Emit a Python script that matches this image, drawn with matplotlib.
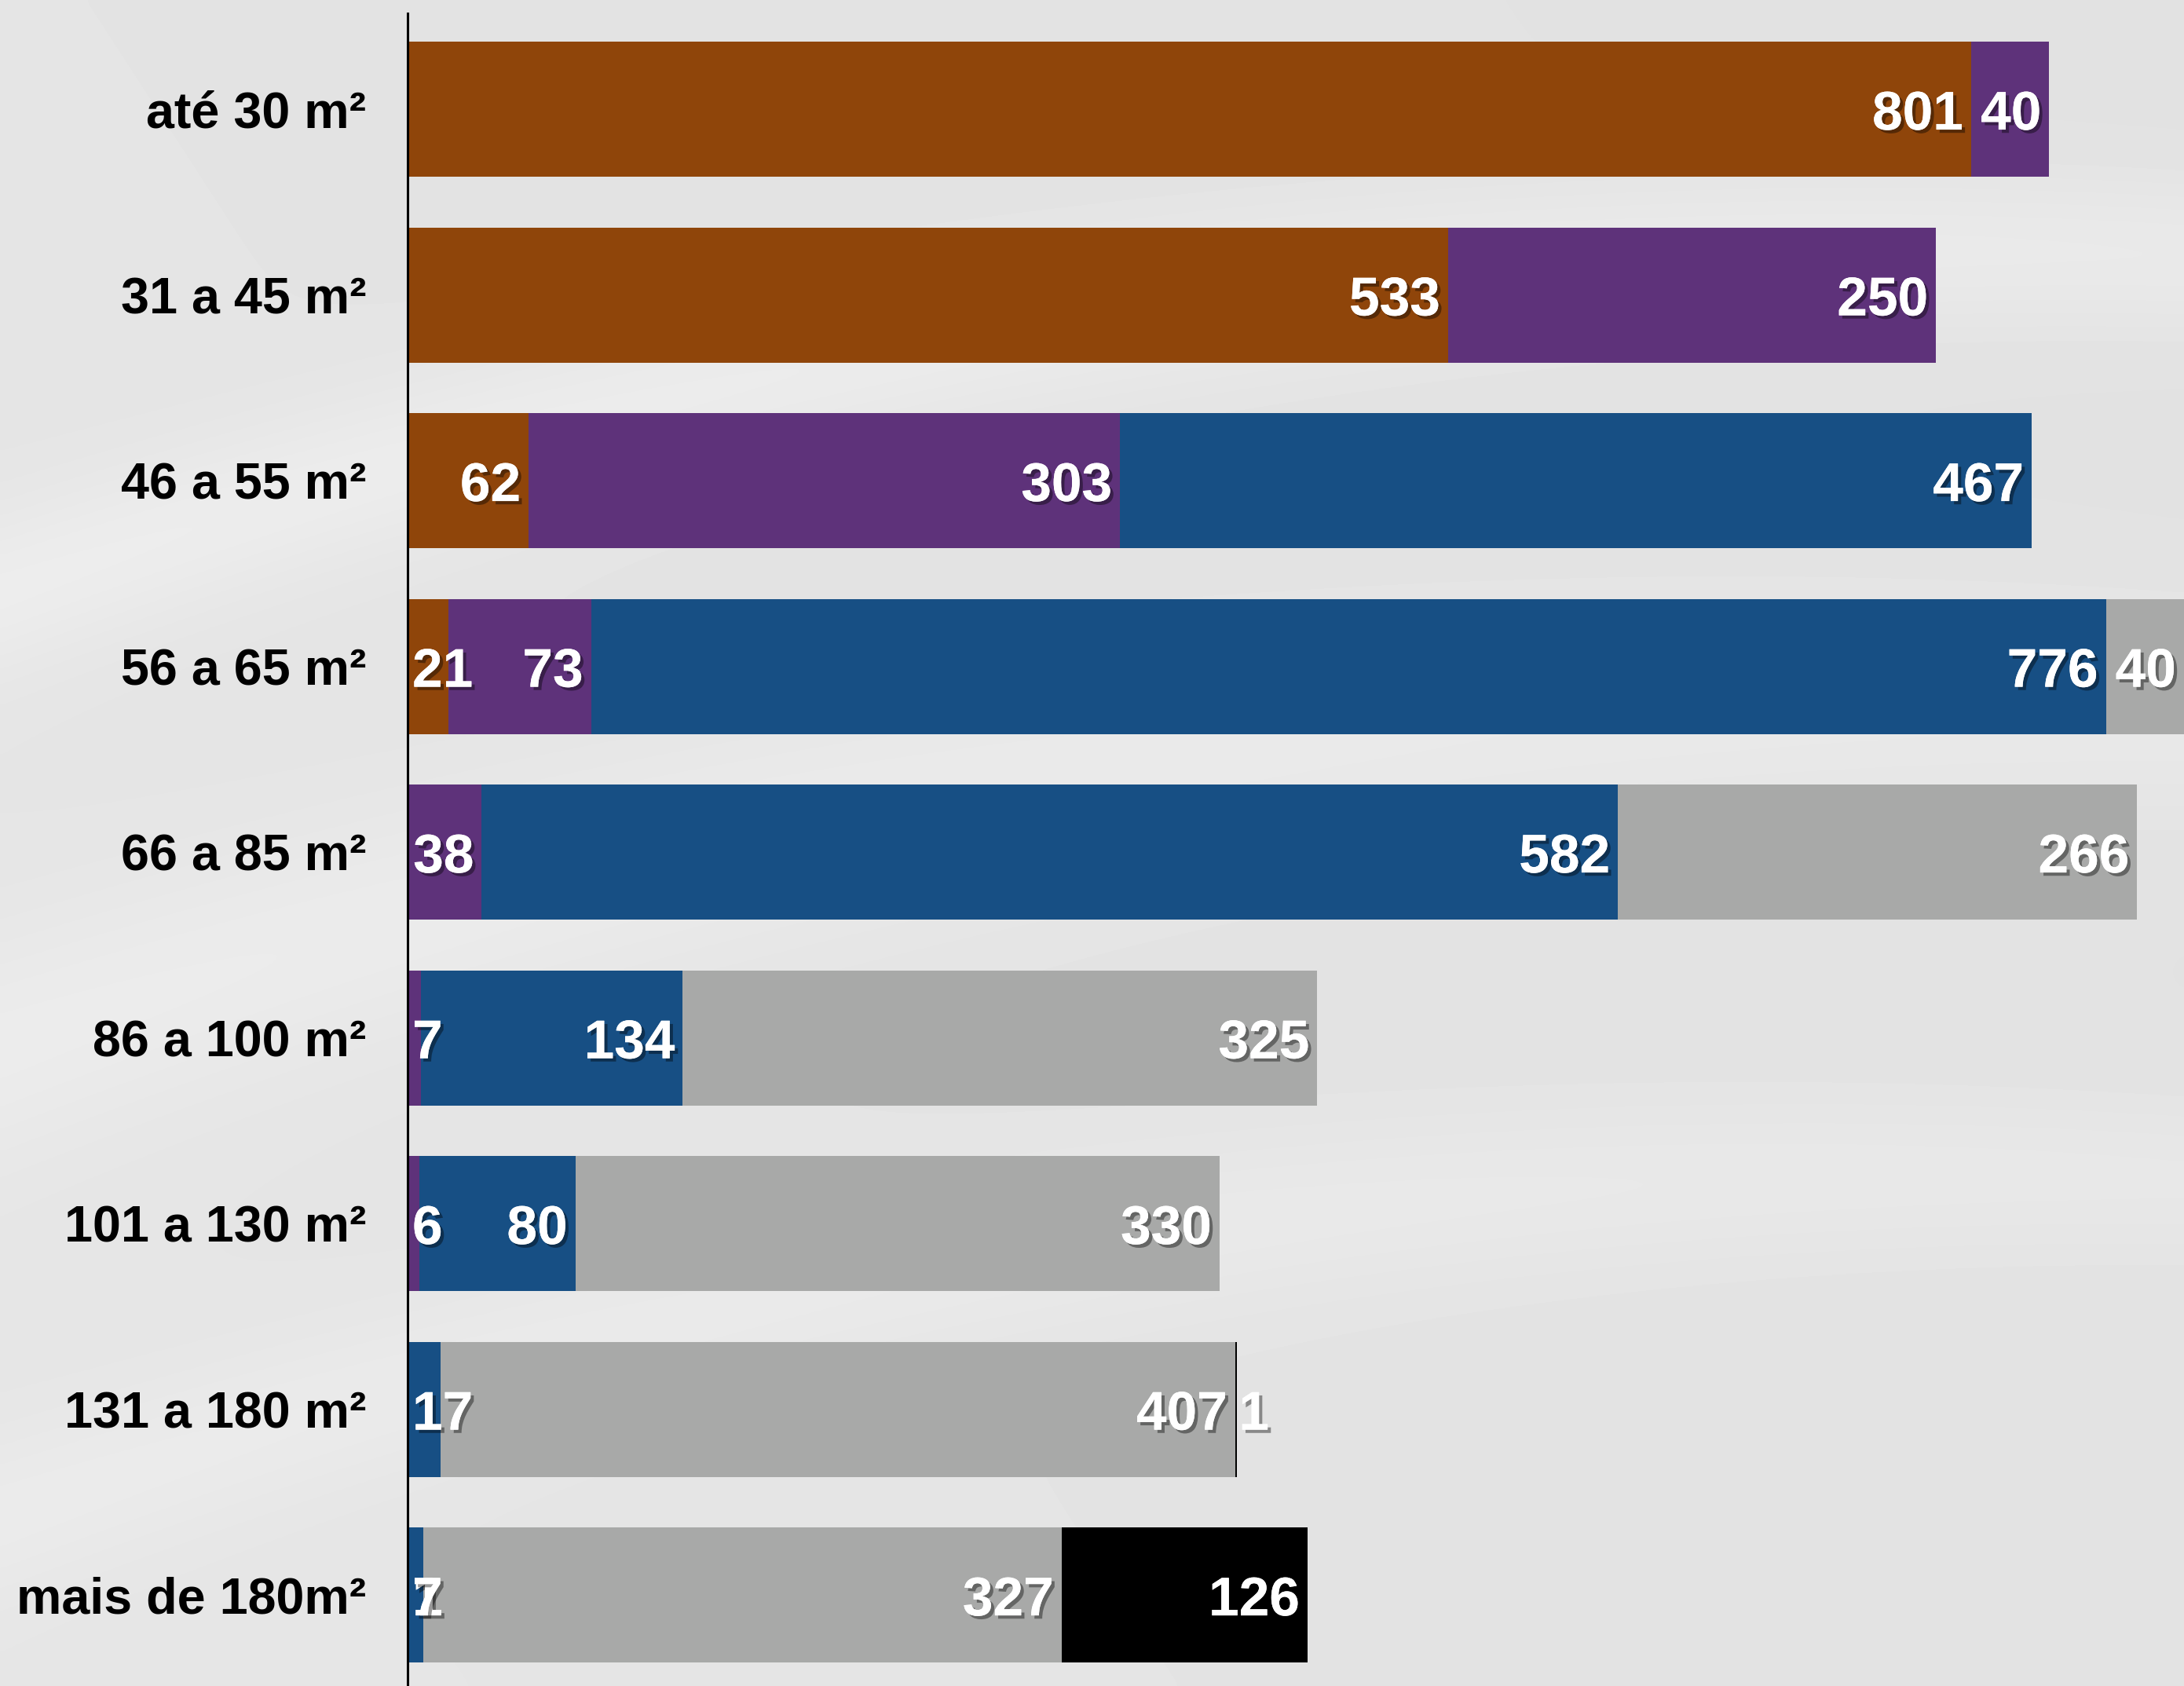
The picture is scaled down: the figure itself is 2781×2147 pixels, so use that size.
import numpy as np
import matplotlib
matplotlib.use("Agg")
import matplotlib.pyplot as plt
import matplotlib.patheffects as pe

# faixas de área e valores de cada série (da esquerda para a direita)
faixas = ['até 30 m²', '31 a 45 m²', '46 a 55 m²', '56 a 65 m²', '66 a 85 m²',
          '86 a 100 m²', '101 a 130 m²', '131 a 180 m²', 'mais de 180m²']
marrom = [801, 533, 62, 21, 0, 0, 0, 0, 0]
roxo = [40, 250, 303, 73, 38, 7, 6, 0, 1]
azul = [0, 0, 467, 776, 582, 134, 80, 17, 7]
cinza = [0, 0, 0, 40, 266, 325, 330, 407, 327]
preto = [0, 0, 0, 0, 0, 0, 0, 1, 126]

series = [marrom, roxo, azul, cinza, preto]
cores = ['#8F450A', '#5E327A', '#174F84', '#A8A9A8', '#000000']

plt.rcParams['font.family'] = ['Liberation Sans', 'DejaVu Sans']

W, H, DPI = 2781, 2147, 100
fig = plt.figure(figsize=(W / DPI, H / DPI), dpi=DPI)

# fundo cinza claro com leves faixas
bg = fig.add_axes([0, 0, 1, 1], zorder=-5)
yy, xx = np.mgrid[0:1:300j, 0:1:400j]
fundo = 0.895 - 0.012 * xx + 0.006 * yy
for c, w, a in [(0.35, 0.05, 0.03), (0.62, 0.07, 0.025), (0.9, 0.05, 0.02)]:
    d = yy - (c - 0.45 * xx + 0.25 * xx ** 2)
    fundo += a * np.exp(-(d / w) ** 2)
bg.imshow(np.clip(fundo, 0, 1), cmap='gray', vmin=0, vmax=1, aspect='auto',
          extent=[0, 1, 0, 1], interpolation='bicubic')
bg.axis('off')

ax = fig.add_axes([519 / W, 0, 1 - 519 / W, 1 - 17 / H])
ax.patch.set_alpha(0)

y = np.arange(len(faixas))
esquerda = np.zeros(len(faixas))
for vals, cor in zip(series, cores):
    ax.barh(y, vals, left=esquerda, height=0.727, color=cor, zorder=2)
    esquerda += np.array(vals)

ax.set_xlim(0, 910)
ax.set_ylim(8.49, -0.516)

# rótulos dos valores
fs_val = 50
px_por_unidade = (W - 521) / 910
sombra = [pe.withSimplePatchShadow(offset=(3, -3), shadow_rgbFace='black', alpha=0.4),
          pe.Normal()]
for i in range(len(faixas)):
    acum = 0
    ativos = [k for k in range(len(series)) if series[k][i] > 0]
    for k in ativos:
        v = series[k][i]
        fim = acum + v
        larg_txt = len(str(v)) * 0.556 * fs_val / 72 * DPI + 12
        if v * px_por_unidade >= larg_txt:
            xy, dx, ha = (fim, i), -10, 'right'
        elif k == ativos[-1] and k != ativos[0]:
            xy, dx, ha = (fim, i), 2, 'left'
        else:
            xy, dx, ha = (0, i), 6, 'left'
        ax.annotate(str(v), xy=xy, xytext=(dx, -8), textcoords='offset pixels',
                    ha=ha, va='center', color='white', fontsize=fs_val,
                    fontweight='bold', path_effects=sombra, zorder=5)
        acum = fim

ax.set_yticks(y)
ax.set_yticklabels(faixas, fontsize=46.5, fontweight='bold')
ax.tick_params(axis='y', length=0, pad=38)
ax.set_xticks([])
for s in ['top', 'right', 'bottom']:
    ax.spines[s].set_visible(False)
ax.spines['left'].set_linewidth(2.2)
ax.spines['left'].set_color('black')
ax.spines['left'].set_zorder(6)

fig.savefig('out.png', dpi=DPI)
